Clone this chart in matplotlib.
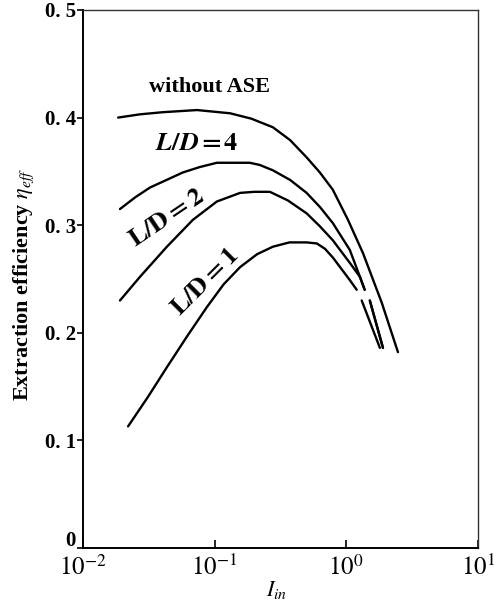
import numpy as np
import matplotlib
matplotlib.use("Agg")
import matplotlib.pyplot as plt
import matplotlib.transforms as mtransforms

plt.rcParams['font.family'] = ['Liberation Serif', 'DejaVu Serif']
plt.rcParams['mathtext.fontset'] = 'stix'

nan = np.nan

# curves (I_in, eta_eff); nan marks the break near 0.24
x_noase = [0.0185, 0.027, 0.0404, 0.0735, 0.131, 0.19, 0.277, 0.375, 0.50, 0.63, 0.79, 1.03, 1.34, 1.86, 2.47]
y_noase = [0.400, 0.403, 0.405, 0.407, 0.404, 0.399, 0.391, 0.379, 0.363, 0.349, 0.333, 0.305, 0.274, 0.228, 0.182]

x_ld4 = [0.0191, 0.025, 0.0323, 0.0574, 0.077, 0.104, 0.185, 0.22, 0.277, 0.375, 0.50, 0.63, 0.79,
         1.064, 1.27, 1.38, nan, 1.51, 1.90]
y_ld4 = [0.315, 0.326, 0.335, 0.349, 0.354, 0.358, 0.358, 0.356, 0.351, 0.342, 0.330, 0.317, 0.302,
         0.277, 0.252, 0.240, nan, 0.230, 0.186]

x_ld2 = [0.0191, 0.0271, 0.0434, 0.0684, 0.104, 0.156, 0.20, 0.263, 0.36, 0.50, 0.63, 0.79,
         1.064, 1.27, 1.38, nan, 1.51, 1.90]
y_ld2 = [0.230, 0.252, 0.280, 0.305, 0.322, 0.330, 0.331, 0.331, 0.323, 0.311, 0.299, 0.286,
         0.265, 0.252, 0.240, nan, 0.230, 0.186]

x_ld1 = [0.022, 0.031, 0.0434, 0.062, 0.0875, 0.117, 0.156, 0.21, 0.277, 0.37, 0.50, 0.598, 0.69, 0.79,
         1.064, 1.20, nan, 1.31, 1.80]
y_ld1 = [0.113, 0.140, 0.168, 0.197, 0.224, 0.245, 0.261, 0.273, 0.280, 0.284, 0.284, 0.283, 0.278, 0.270,
         0.249, 0.240, nan, 0.230, 0.186]

y_ticks = [0, 0.1, 0.2, 0.3, 0.4, 0.5]
y_ticklabels = ['0', '0. 1', '0. 2', '0. 3', '0. 4', '0. 5']
x_ticks = [1e-2, 1e-1, 1e0, 1e1]
x_ticklabels = [r'$10^{-2}$', r'$10^{-1}$', r'$10^{0}$', r'$10^{1}$']

fig = plt.figure(figsize=(5.02, 6.01), dpi=100)
ax = fig.add_axes([0.1653, 0.0882, 0.952 - 0.1653, 0.9834 - 0.0882])

for xs, ys in [(x_noase, y_noase), (x_ld4, y_ld4), (x_ld2, y_ld2), (x_ld1, y_ld1)]:
    ax.plot(xs, ys, color='black', lw=1.7, solid_joinstyle='round', solid_capstyle='round')

ax.set_xscale('log')
ax.set_xlim(1e-2, 1e1)
ax.set_ylim(0, 0.5)
ax.set_yticks(y_ticks)
ax.set_yticklabels(y_ticklabels, fontsize=15, fontweight='bold')
ax.set_xticks(x_ticks)
ax.set_xticklabels(x_ticklabels, fontsize=18)
ax.xaxis.set_minor_locator(matplotlib.ticker.NullLocator())
ax.tick_params(axis='y', direction='out', length=4, width=1.2, pad=1)
ax.tick_params(axis='x', direction='in', length=6, width=1.2, pad=5)

# the "0" label sits a little above the corner in the reference
zero_lbl = ax.get_yticklabels()[0]
zero_lbl.set_transform(zero_lbl.get_transform() +
                       mtransforms.ScaledTranslation(0, 7 / 72, fig.dpi_scale_trans))

for side in ['left', 'bottom']:
    ax.spines[side].set_linewidth(1.4)
for side in ['top', 'right']:
    ax.spines[side].set_linewidth(1.0)
    ax.spines[side].set_color('#333333')

# curve labels
ax.text(0.092, 0.428, 'without ASE', fontsize=16, fontweight='bold', ha='center', va='center')
ax.text(0.0735, 0.375, r'$\boldsymbol{L/D=4}$', fontsize=19, ha='center', va='center')
ax.text(0.0434, 0.306, r'$\mathbf{L/D=2}$', fontsize=19, ha='center', va='center', rotation=34)
ax.text(0.0844, 0.247, r'$\mathbf{L/D=1}$', fontsize=19, ha='center', va='center', rotation=45)

ax.set_ylabel(r'Extraction efficiency $\eta_{eff}$', fontsize=16, fontweight='bold')
ax.yaxis.set_label_coords(-0.12, 0.49)
ax.set_xlabel(r'$I_{in}$', fontsize=16)
ax.xaxis.set_label_coords(0.49, -0.058)

fig.savefig('out.png', dpi=100)
